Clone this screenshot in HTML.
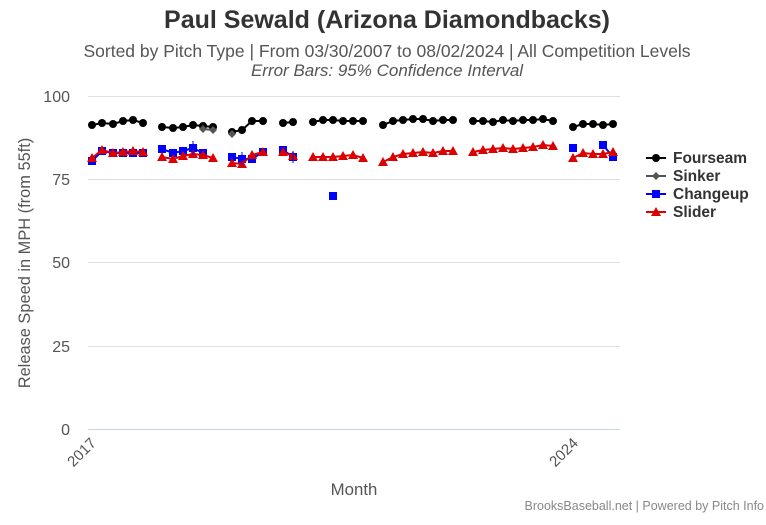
<!DOCTYPE html>
<html><head><meta charset="utf-8"><style>
body{margin:0;background:#fff;}
svg{display:block;font-family:"Liberation Sans",sans-serif;}
</style></head><body>
<svg id="c" width="766" height="525" viewBox="0 0 766 525">
<text x="387" y="28" text-anchor="middle" font-size="25" font-weight="bold" fill="#333">Paul Sewald (Arizona Diamondbacks)</text>
<text x="387" y="57" text-anchor="middle" font-size="17.5" fill="#555">Sorted by Pitch Type | From 03/30/2007 to 08/02/2024 | All Competition Levels</text>
<text x="387" y="76" text-anchor="middle" font-size="17" font-style="italic" fill="#555">Error Bars: 95% Confidence Interval</text>
<g stroke="#e0e0e0" stroke-width="1">
<line x1="88" x2="620" y1="96.5" y2="96.5"/><line x1="88" x2="620" y1="179.5" y2="179.5"/>
<line x1="88" x2="620" y1="262.5" y2="262.5"/><line x1="88" x2="620" y1="346.5" y2="346.5"/>
</g>
<line x1="88" x2="620" y1="429.5" y2="429.5" stroke="#ccd6eb"/>
<g font-size="16" fill="#555" text-anchor="end">
<text x="70" y="102">100</text><text x="70" y="185">75</text><text x="70" y="268">50</text><text x="70" y="352">25</text><text x="70" y="435">0</text>
</g>
<text transform="translate(30,263) rotate(-90)" text-anchor="middle" font-size="16.4" fill="#555">Release Speed in MPH (from 55ft)</text>
<text transform="translate(97,444) rotate(-45)" text-anchor="end" font-size="15" fill="#555">2017</text>
<text transform="translate(579,444) rotate(-45)" text-anchor="end" font-size="15" fill="#555">2024</text>
<text x="354" y="495" text-anchor="middle" font-size="16.8" fill="#555">Month</text>
<text x="764" y="510" text-anchor="end" font-size="12.5" fill="#888">BrooksBaseball.net | Powered by Pitch Info</text>
<g id="data"></g>
<g font-size="15.5" font-weight="bold" fill="#333">
<line x1="646" x2="666" y1="158" y2="158" stroke="#000" stroke-width="2"/><circle cx="656" cy="158" r="4" fill="#000"/><text x="673" y="163">Fourseam</text>
<line x1="646" x2="666" y1="176" y2="176" stroke="#555" stroke-width="2"/><path d="M656 172 L660 176 L656 180 L652 176Z" fill="#555"/><text x="673" y="181">Sinker</text>
<line x1="646" x2="666" y1="194" y2="194" stroke="#00f" stroke-width="2"/><rect x="652" y="190" width="8" height="8" fill="#00f"/><text x="673" y="199">Changeup</text>
<line x1="646" x2="666" y1="212" y2="212" stroke="#d00" stroke-width="2"/><path d="M656 207 L661 216 L651 216Z" fill="#d00"/><text x="673" y="217">Slider</text>
</g>
</svg>
<script>
var F=[[[92,125],[102,123],[113,124],[123,121],[133,120],[143,123]],[[162,127],[173,128],[183,127],[193,125],[203,126],[213,127]],[[232,132],[242,130],[252,121],[263,121]],[[283,123],[293,122]],[[313,122],[323,120],[333,120],[343,121],[353,121],[363,121]],[[383,125],[393,121],[403,120],[413,119],[423,119],[433,121],[443,120],[453,120]],[[473,121],[483,121],[493,122],[503,120],[513,121],[523,120],[533,120],[543,119],[553,121]],[[573,127],[583,124],[593,124],[603,125],[613,124]]];
var S=[[[203,129],[213,130]],[[232,134]]];
var C=[[[92,161],[102,151],[113,153],[123,153],[133,153],[143,153]],[[162,149],[173,153],[183,151],[193,148],[203,153]],[[232,157],[242,159],[252,159],[263,152]],[[283,150],[293,157]],[[333,196]],[[573,148]],[[603,145],[613,157]]];
var L=[[[92,158],[102,150],[113,153],[123,152],[133,151],[143,152]],[[162,157],[173,159],[183,156],[193,154],[203,155],[213,158]],[[232,163],[242,164],[252,155],[263,152]],[[283,152],[293,156]],[[313,157],[323,157],[333,157],[343,156],[353,155],[363,158]],[[383,162],[393,157],[403,154],[413,153],[423,152],[433,153],[443,151],[453,151]],[[473,152],[483,150],[493,149],[503,148],[513,149],[523,148],[533,147],[543,145],[553,146]],[[573,158],[583,153],[593,154],[603,154],[613,152]]];
var h='';
function ser(d,col,m){d.forEach(function(s){h+='<polyline fill="none" stroke="'+col+'" stroke-width="2" points="'+s.map(function(p){return p.join(',')}).join(' ')+'"/>';s.forEach(function(p){var x=p[0],y=p[1];
if(m=='c')h+='<circle cx="'+x+'" cy="'+y+'" r="4" fill="'+col+'"/>';
else if(m=='d')h+='<path d="M'+x+' '+(y-4)+'L'+(x+4)+' '+y+'L'+x+' '+(y+4)+'L'+(x-4)+' '+y+'Z" fill="'+col+'"/>';
else if(m=='s')h+='<rect x="'+(x-4)+'" y="'+(y-4)+'" width="8" height="8" fill="'+col+'"/>';
else h+='<path d="M'+x+' '+(y-5)+'L'+(x+5)+' '+(y+4)+'L'+(x-5)+' '+(y+4)+'Z" fill="'+col+'"/>';});});}
ser(F,'#000','c');ser(S,'#555','d');ser(C,'#00f','s');ser(L,'#d00','t');
h+='<line x1="193" x2="193" y1="141" y2="155" stroke="#00f"/><line x1="242" x2="242" y1="152" y2="166" stroke="#00f"/><line x1="293" x2="293" y1="151" y2="163" stroke="#00f"/>';
document.getElementById('data').innerHTML=h;
</script>
</body></html>
